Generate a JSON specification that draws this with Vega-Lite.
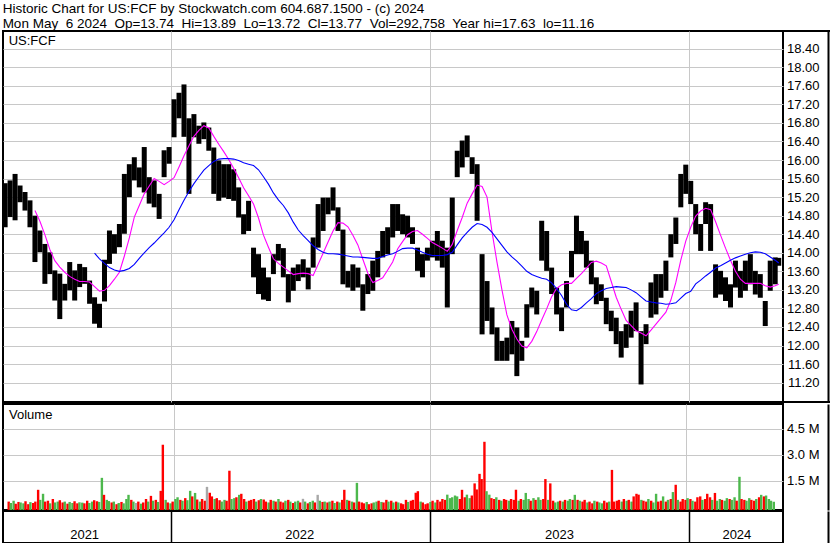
{
  "$schema": "https://vega.github.io/schema/vega-lite/v6.json",
  "background": "white",
  "padding": {"left": 1, "top": 1, "right": 2, "bottom": 0},
  "title": {
    "text": ["Historic Chart for US:FCF by Stockwatch.com 604.687.1500 - (c) 2024", "Mon May\u00a0 6 2024\u00a0 Op=13.74\u00a0 Hi=13.89\u00a0 Lo=13.72\u00a0 Cl=13.77\u00a0 Vol=292,758\u00a0 Year hi=17.63\u00a0 lo=11.16"],
    "anchor": "start", "font": "Liberation Sans", "fontSize": 13.5, "fontWeight": "normal", "lineHeight": 15, "color": "#000", "offset": -1, "dx": 1
  },
  "config": {
    "view": {"stroke": "#000", "strokeWidth": 2},
    "font": "Liberation Sans",
    "axis": {"gridColor": "#c8c8c8", "gridWidth": 1, "labelFont": "Liberation Sans", "labelColor": "#000", "labelFontSize": 13, "labelOverlap": false, "labelBound": false},
    "title": {"font": "Liberation Sans"},
    "text": {"font": "Liberation Sans"}
  },
  "datasets": {
    "px": [
      {"d":"2021-05-12","h":15.5,"l":14.55},
      {"d":"2021-05-19","h":15.56,"l":14.77},
      {"d":"2021-05-26","h":15.7,"l":14.7},
      {"d":"2021-06-02","h":15.45,"l":15.09},
      {"d":"2021-06-09","h":15.31,"l":14.91},
      {"d":"2021-06-16","h":15.13,"l":14.55},
      {"d":"2021-06-23","h":14.8,"l":13.8,"m":14.91},
      {"d":"2021-06-30","h":14.48,"l":14.01,"m":14.68},
      {"d":"2021-07-07","h":14.19,"l":13.33,"m":14.39},
      {"d":"2021-07-14","h":14.01,"l":13.54,"m":14.07},
      {"d":"2021-07-21","h":13.62,"l":12.97,"m":13.83},
      {"d":"2021-07-28","h":13.55,"l":12.57,"m":13.69},
      {"d":"2021-08-04","h":13.33,"l":12.97,"m":13.58},
      {"d":"2021-08-11","h":13.8,"l":13.19,"m":13.49},
      {"d":"2021-08-18","h":13.62,"l":12.97,"m":13.43},
      {"d":"2021-08-25","h":13.76,"l":13.26,"m":13.38},
      {"d":"2021-09-01","h":13.69,"l":13.33,"m":13.38},
      {"d":"2021-09-08","h":13.4,"l":12.9,"m":13.37},
      {"d":"2021-09-15","h":13.04,"l":12.47,"m":13.27,"b":13.99},
      {"d":"2021-09-22","h":12.9,"l":12.38,"m":13.17,"b":13.87},
      {"d":"2021-09-29","h":13.85,"l":12.95,"m":13.19,"b":13.77},
      {"d":"2021-10-06","h":14.48,"l":13.76,"m":13.29,"b":13.68},
      {"d":"2021-10-13","h":14.4,"l":13.98,"m":13.43,"b":13.63},
      {"d":"2021-10-20","h":14.62,"l":14.12,"m":13.58,"b":13.6},
      {"d":"2021-10-27","h":15.7,"l":14.41,"m":13.93,"b":13.62},
      {"d":"2021-11-03","h":15.91,"l":15.2,"m":14.32,"b":13.66},
      {"d":"2021-11-10","h":16.06,"l":15.56,"m":14.77,"b":13.75},
      {"d":"2021-11-17","h":15.84,"l":15.41,"m":15.02,"b":13.88},
      {"d":"2021-11-24","h":16.28,"l":15.3,"m":15.27,"b":14.0},
      {"d":"2021-12-01","h":15.63,"l":15.06,"m":15.44,"b":14.11},
      {"d":"2021-12-08","h":15.56,"l":14.98,"m":15.6,"b":14.21},
      {"d":"2021-12-15","h":15.27,"l":14.73,"m":15.54,"b":14.32},
      {"d":"2021-12-22","h":16.21,"l":15.63,"m":15.47,"b":14.43},
      {"d":"2021-12-29","h":16.28,"l":15.92,"m":15.54,"b":14.55},
      {"d":"2022-01-05","h":17.31,"l":16.49,"m":15.62,"b":14.71},
      {"d":"2022-01-12","h":17.45,"l":16.9,"m":15.85,"b":14.93},
      {"d":"2022-01-19","h":17.63,"l":16.5,"m":16.09,"b":15.13},
      {"d":"2022-01-26","h":16.9,"l":15.27,"m":16.31,"b":15.32},
      {"d":"2022-02-02","h":16.99,"l":16.49,"m":16.51,"b":15.49},
      {"d":"2022-02-09","h":16.74,"l":16.35,"m":16.64,"b":15.64},
      {"d":"2022-02-16","h":16.81,"l":16.45,"m":16.74,"b":15.78},
      {"d":"2022-02-23","h":16.7,"l":16.2,"m":16.69,"b":15.88},
      {"d":"2022-03-02","h":16.27,"l":15.27,"m":16.51,"b":15.97},
      {"d":"2022-03-09","h":15.99,"l":15.12,"m":16.34,"b":16.02},
      {"d":"2022-03-16","h":15.91,"l":15.19,"m":16.18,"b":16.03},
      {"d":"2022-03-23","h":15.91,"l":15.16,"m":16.01,"b":16.03},
      {"d":"2022-03-30","h":15.8,"l":15.12,"m":15.82,"b":16.02},
      {"d":"2022-04-06","h":15.41,"l":14.76,"m":15.62,"b":15.99},
      {"d":"2022-04-13","h":14.83,"l":14.4,"m":15.4,"b":15.94},
      {"d":"2022-04-20","h":15.12,"l":14.47,"m":15.23,"b":15.91},
      {"d":"2022-04-27","h":14.11,"l":13.47,"m":15.05,"b":15.88},
      {"d":"2022-05-04","h":13.97,"l":13.11,"m":14.75,"b":15.79},
      {"d":"2022-05-11","h":13.68,"l":12.99,"m":14.38,"b":15.64},
      {"d":"2022-05-18","h":13.47,"l":12.96,"m":14.12,"b":15.48},
      {"d":"2022-05-25","h":13.97,"l":13.54,"m":13.87,"b":15.29},
      {"d":"2022-06-01","h":14.19,"l":13.83,"m":13.77,"b":15.14},
      {"d":"2022-06-08","h":14.1,"l":13.47,"m":13.69,"b":15.02},
      {"d":"2022-06-15","h":13.54,"l":12.93,"m":13.61,"b":14.86},
      {"d":"2022-06-22","h":13.68,"l":13.18,"m":13.53,"b":14.66},
      {"d":"2022-06-29","h":13.75,"l":13.39,"m":13.55,"b":14.49},
      {"d":"2022-07-06","h":13.86,"l":13.47,"m":13.56,"b":14.37},
      {"d":"2022-07-13","h":13.68,"l":13.21,"m":13.55,"b":14.26},
      {"d":"2022-07-20","h":14.33,"l":13.68,"m":13.51,"b":14.15},
      {"d":"2022-07-27","h":15.05,"l":14.11,"m":13.75,"b":14.07},
      {"d":"2022-08-03","h":15.19,"l":14.47,"m":13.99,"b":14.01},
      {"d":"2022-08-10","h":15.19,"l":14.83,"m":14.23,"b":13.98},
      {"d":"2022-08-17","h":15.41,"l":14.91,"m":14.47,"b":13.98},
      {"d":"2022-08-24","h":14.98,"l":14.47,"m":14.65,"b":13.97},
      {"d":"2022-08-31","h":14.5,"l":13.32,"m":14.64,"b":13.95},
      {"d":"2022-09-07","h":13.61,"l":13.25,"m":14.56,"b":13.93},
      {"d":"2022-09-14","h":13.75,"l":13.18,"m":14.38,"b":13.91},
      {"d":"2022-09-21","h":13.68,"l":13.25,"m":14.17,"b":13.91},
      {"d":"2022-09-28","h":13.32,"l":12.75,"m":13.86,"b":13.9},
      {"d":"2022-10-05","h":13.54,"l":13.11,"m":13.56,"b":13.89},
      {"d":"2022-10-12","h":13.83,"l":13.18,"m":13.36,"b":13.88},
      {"d":"2022-10-19","h":14.04,"l":13.47,"m":13.4,"b":13.88},
      {"d":"2022-10-26","h":14.47,"l":13.9,"m":13.46,"b":13.92},
      {"d":"2022-11-02","h":14.55,"l":13.97,"m":13.63,"b":13.95},
      {"d":"2022-11-09","h":15.05,"l":14.33,"m":13.8,"b":13.98},
      {"d":"2022-11-16","h":15.05,"l":14.47,"m":14.08,"b":14.03},
      {"d":"2022-11-23","h":14.83,"l":14.4,"m":14.24,"b":14.09},
      {"d":"2022-11-30","h":14.8,"l":14.33,"m":14.39,"b":14.1},
      {"d":"2022-12-07","h":14.55,"l":14.19,"m":14.46,"b":14.1},
      {"d":"2022-12-14","h":14.11,"l":13.61,"m":14.48,"b":14.06},
      {"d":"2022-12-21","h":13.97,"l":13.47,"m":14.4,"b":14.01},
      {"d":"2022-12-28","h":14.11,"l":13.83,"m":14.31,"b":13.97},
      {"d":"2023-01-04","h":14.26,"l":13.9,"m":14.22,"b":13.94},
      {"d":"2023-01-11","h":14.47,"l":13.83,"m":14.16,"b":13.94},
      {"d":"2023-01-18","h":14.26,"l":13.68,"m":14.1,"b":13.94},
      {"d":"2023-01-25","h":14.11,"l":12.82,"m":14.03,"b":13.96},
      {"d":"2023-02-01","h":15.19,"l":13.97,"m":14.18,"b":14.01},
      {"d":"2023-02-08","h":16.2,"l":15.63,"m":14.48,"b":14.17},
      {"d":"2023-02-15","h":16.42,"l":15.84,"m":14.76,"b":14.32},
      {"d":"2023-02-22","h":16.53,"l":16.06,"m":15.07,"b":14.44},
      {"d":"2023-03-01","h":16.06,"l":15.7,"m":15.27,"b":14.55},
      {"d":"2023-03-08","h":15.91,"l":14.69,"m":15.46,"b":14.63},
      {"d":"2023-03-15","h":13.97,"l":12.24,"m":15.43,"b":14.61},
      {"d":"2023-03-22","h":13.39,"l":12.53,"m":15.2,"b":14.55},
      {"d":"2023-03-29","h":12.82,"l":12.24,"m":14.45,"b":14.44},
      {"d":"2023-04-05","h":12.39,"l":11.67,"m":13.8,"b":14.3},
      {"d":"2023-04-12","h":12.1,"l":11.67,"m":13.2,"b":14.16},
      {"d":"2023-04-19","h":12.17,"l":11.67,"m":12.66,"b":14.02},
      {"d":"2023-04-26","h":12.53,"l":11.81,"m":12.35,"b":13.91},
      {"d":"2023-05-03","h":12.39,"l":11.34,"m":12.14,"b":13.82},
      {"d":"2023-05-10","h":12.1,"l":11.67,"m":11.99,"b":13.71},
      {"d":"2023-05-17","h":12.89,"l":12.17,"m":11.95,"b":13.6},
      {"d":"2023-05-24","h":13.25,"l":12.82,"m":12.09,"b":13.53},
      {"d":"2023-05-31","h":13.18,"l":12.67,"m":12.3,"b":13.49},
      {"d":"2023-06-07","h":14.69,"l":13.83,"m":12.55,"b":13.45},
      {"d":"2023-06-14","h":14.47,"l":13.61,"m":12.79,"b":13.43},
      {"d":"2023-06-21","h":13.68,"l":13.11,"m":13.05,"b":13.35},
      {"d":"2023-06-28","h":13.25,"l":12.67,"m":13.23,"b":13.23},
      {"d":"2023-07-05","h":12.82,"l":12.31,"m":13.31,"b":13.08},
      {"d":"2023-07-12","h":13.39,"l":12.82,"m":13.34,"b":12.89},
      {"d":"2023-07-19","h":14.04,"l":13.47,"m":13.34,"b":12.77},
      {"d":"2023-07-26","h":14.8,"l":13.97,"m":13.45,"b":12.75},
      {"d":"2023-08-02","h":14.47,"l":13.97,"m":13.55,"b":12.82},
      {"d":"2023-08-09","h":14.26,"l":13.68,"m":13.67,"b":12.92},
      {"d":"2023-08-16","h":13.83,"l":13.32,"m":13.79,"b":13.01},
      {"d":"2023-08-23","h":13.47,"l":12.89,"m":13.82,"b":13.12},
      {"d":"2023-08-30","h":13.32,"l":12.96,"m":13.78,"b":13.18},
      {"d":"2023-09-06","h":13.03,"l":12.46,"m":13.72,"b":13.23},
      {"d":"2023-09-13","h":12.75,"l":12.31,"m":13.38,"b":13.25},
      {"d":"2023-09-20","h":12.6,"l":12.03,"m":13.04,"b":13.27},
      {"d":"2023-09-27","h":12.31,"l":11.74,"m":12.78,"b":13.26},
      {"d":"2023-10-04","h":12.46,"l":11.95,"m":12.54,"b":13.25},
      {"d":"2023-10-11","h":12.75,"l":12.17,"m":12.43,"b":13.2},
      {"d":"2023-10-18","h":12.93,"l":12.31,"m":12.32,"b":13.14},
      {"d":"2023-10-25","h":12.31,"l":11.16,"m":12.27,"b":13.05},
      {"d":"2023-11-01","h":12.46,"l":12.03,"m":12.21,"b":12.96},
      {"d":"2023-11-08","h":13.36,"l":12.6,"m":12.33,"b":12.94},
      {"d":"2023-11-15","h":13.54,"l":12.67,"m":12.46,"b":12.92},
      {"d":"2023-11-22","h":13.54,"l":13.03,"m":12.59,"b":12.91},
      {"d":"2023-11-29","h":13.83,"l":13.18,"m":12.72,"b":12.89},
      {"d":"2023-12-06","h":14.4,"l":13.9,"m":12.98,"b":12.9},
      {"d":"2023-12-13","h":14.76,"l":14.19,"m":13.36,"b":12.92},
      {"d":"2023-12-20","h":15.7,"l":14.98,"m":13.84,"b":13.02},
      {"d":"2023-12-27","h":15.9,"l":15.27,"m":14.25,"b":13.12},
      {"d":"2024-01-03","h":15.55,"l":15.05,"m":14.55,"b":13.17},
      {"d":"2024-01-10","h":15.05,"l":14.4,"m":14.79,"b":13.33},
      {"d":"2024-01-17","h":14.62,"l":14.04,"m":14.9,"b":13.41},
      {"d":"2024-01-24","h":15.09,"l":14.62,"m":14.96,"b":13.5},
      {"d":"2024-01-31","h":15.05,"l":14.04,"m":14.93,"b":13.58},
      {"d":"2024-02-07","h":13.75,"l":13.03,"m":14.67,"b":13.67},
      {"d":"2024-02-14","h":13.61,"l":13.1,"m":14.38,"b":13.72},
      {"d":"2024-02-21","h":13.47,"l":12.96,"m":14.1,"b":13.78},
      {"d":"2024-02-28","h":13.32,"l":12.82,"m":13.84,"b":13.84},
      {"d":"2024-03-06","h":13.83,"l":13.25,"m":13.6,"b":13.89},
      {"d":"2024-03-13","h":13.61,"l":13.03,"m":13.43,"b":13.93},
      {"d":"2024-03-20","h":13.83,"l":13.18,"m":13.34,"b":13.97},
      {"d":"2024-03-27","h":13.97,"l":13.32,"m":13.34,"b":14.0},
      {"d":"2024-04-03","h":13.61,"l":13.1,"m":13.34,"b":14.02},
      {"d":"2024-04-10","h":13.54,"l":13.03,"m":13.34,"b":14.01},
      {"d":"2024-04-17","h":12.96,"l":12.42,"m":13.29,"b":13.98},
      {"d":"2024-04-24","h":13.83,"l":13.18,"m":13.26,"b":13.91},
      {"d":"2024-05-01","h":13.9,"l":13.32,"m":13.29,"b":13.84},
      {"d":"2024-05-06","h":13.89,"l":13.72,"m":13.32,"b":13.78}
    ],
    "vol": [
      {"d":"2021-05-10","v":0.3,"c":"r"},{"d":"2021-05-13","v":0.22,"c":"g"},
      {"d":"2021-05-17","v":0.35,"c":"g"},{"d":"2021-05-20","v":0.18,"c":"r"},
      {"d":"2021-05-24","v":0.28,"c":"r"},{"d":"2021-05-27","v":0.25,"c":"g"},
      {"d":"2021-05-31","v":0.2,"c":"g"},{"d":"2021-06-03","v":0.32,"c":"r"},
      {"d":"2021-06-07","v":0.15,"c":"r"},{"d":"2021-06-10","v":0.27,"c":"g"},
      {"d":"2021-06-14","v":0.22,"c":"r"},{"d":"2021-06-17","v":0.3,"c":"r"},
      {"d":"2021-06-21","v":0.98,"c":"r"},{"d":"2021-06-24","v":0.4,"c":"g"},
      {"d":"2021-06-28","v":0.75,"c":"g"},{"d":"2021-07-01","v":0.3,"c":"r"},
      {"d":"2021-07-05","v":0.35,"c":"r"},{"d":"2021-07-08","v":0.2,"c":"g"},
      {"d":"2021-07-12","v":0.45,"c":"r"},{"d":"2021-07-15","v":0.25,"c":"g"},
      {"d":"2021-07-19","v":0.3,"c":"g"},{"d":"2021-07-22","v":0.38,"c":"r"},
      {"d":"2021-07-26","v":0.25,"c":"r"},{"d":"2021-07-29","v":0.3,"c":"g"},
      {"d":"2021-08-02","v":0.18,"c":"r"},{"d":"2021-08-05","v":0.28,"c":"g"},
      {"d":"2021-08-09","v":0.22,"c":"g"},{"d":"2021-08-12","v":0.32,"c":"r"},
      {"d":"2021-08-16","v":0.2,"c":"r"},{"d":"2021-08-19","v":0.26,"c":"g"},
      {"d":"2021-08-23","v":0.24,"c":"g"},{"d":"2021-08-26","v":0.2,"c":"r"},
      {"d":"2021-08-30","v":0.35,"c":"r"},{"d":"2021-09-02","v":0.22,"c":"g"},
      {"d":"2021-09-06","v":0.3,"c":"g"},{"d":"2021-09-09","v":0.38,"c":"r"},
      {"d":"2021-09-13","v":0.32,"c":"r"},{"d":"2021-09-16","v":0.28,"c":"g"},
      {"d":"2021-09-20","v":1.67,"c":"g"},{"d":"2021-09-23","v":0.69,"c":"r"},
      {"d":"2021-09-27","v":0.4,"c":"g"},{"d":"2021-09-30","v":0.33,"c":"g"},
      {"d":"2021-10-04","v":0.25,"c":"r"},{"d":"2021-10-07","v":0.3,"c":"g"},
      {"d":"2021-10-11","v":0.15,"c":"r"},{"d":"2021-10-14","v":0.22,"c":"g"},
      {"d":"2021-10-18","v":0.28,"c":"r"},{"d":"2021-10-21","v":0.2,"c":"g"},
      {"d":"2021-10-25","v":0.45,"c":"g"},{"d":"2021-10-28","v":0.69,"c":"g"},
      {"d":"2021-11-01","v":0.4,"c":"r"},{"d":"2021-11-04","v":0.3,"c":"g"},
      {"d":"2021-11-08","v":0.22,"c":"n"},{"d":"2021-11-11","v":0.3,"c":"r"},
      {"d":"2021-11-15","v":0.18,"c":"g"},{"d":"2021-11-18","v":0.25,"c":"r"},
      {"d":"2021-11-22","v":0.45,"c":"r"},{"d":"2021-11-25","v":0.3,"c":"g"},
      {"d":"2021-11-29","v":0.63,"c":"r"},{"d":"2021-12-02","v":0.35,"c":"g"},
      {"d":"2021-12-06","v":0.4,"c":"r"},{"d":"2021-12-09","v":0.28,"c":"g"},
      {"d":"2021-12-13","v":0.92,"c":"r"},{"d":"2021-12-16","v":3.58,"c":"r"},
      {"d":"2021-12-20","v":0.4,"c":"g"},{"d":"2021-12-23","v":0.25,"c":"r"},
      {"d":"2021-12-27","v":0.2,"c":"g"},{"d":"2021-12-30","v":0.3,"c":"r"},
      {"d":"2022-01-03","v":0.45,"c":"g"},{"d":"2022-01-06","v":0.55,"c":"g"},
      {"d":"2022-01-10","v":0.4,"c":"r"},{"d":"2022-01-13","v":0.35,"c":"g"},
      {"d":"2022-01-17","v":0.5,"c":"r"},{"d":"2022-01-20","v":0.38,"c":"g"},
      {"d":"2022-01-24","v":0.92,"c":"g"},{"d":"2022-01-27","v":0.6,"c":"r"},
      {"d":"2022-01-31","v":0.8,"c":"g"},{"d":"2022-02-03","v":0.42,"c":"r"},
      {"d":"2022-02-07","v":0.3,"c":"g"},{"d":"2022-02-10","v":0.45,"c":"r"},
      {"d":"2022-02-14","v":0.35,"c":"r"},{"d":"2022-02-17","v":1.15,"c":"n"},
      {"d":"2022-02-21","v":0.81,"c":"r"},{"d":"2022-02-24","v":0.6,"c":"r"},
      {"d":"2022-02-28","v":0.45,"c":"g"},{"d":"2022-03-03","v":0.5,"c":"r"},
      {"d":"2022-03-07","v":0.38,"c":"r"},{"d":"2022-03-10","v":0.3,"c":"g"},
      {"d":"2022-03-14","v":0.4,"c":"g"},{"d":"2022-03-17","v":0.35,"c":"r"},
      {"d":"2022-03-21","v":2.08,"c":"r"},{"d":"2022-03-24","v":0.45,"c":"g"},
      {"d":"2022-03-28","v":0.5,"c":"g"},{"d":"2022-03-31","v":0.55,"c":"r"},
      {"d":"2022-04-04","v":0.69,"c":"g"},{"d":"2022-04-07","v":0.75,"c":"r"},
      {"d":"2022-04-11","v":0.45,"c":"r"},{"d":"2022-04-14","v":0.3,"c":"g"},
      {"d":"2022-04-18","v":0.35,"c":"r"},{"d":"2022-04-21","v":0.4,"c":"r"},
      {"d":"2022-04-25","v":0.45,"c":"r"},{"d":"2022-04-28","v":0.3,"c":"g"},
      {"d":"2022-05-02","v":0.38,"c":"r"},{"d":"2022-05-05","v":0.45,"c":"g"},
      {"d":"2022-05-09","v":0.42,"c":"r"},{"d":"2022-05-12","v":0.3,"c":"r"},
      {"d":"2022-05-16","v":0.25,"c":"g"},{"d":"2022-05-19","v":0.4,"c":"r"},
      {"d":"2022-05-23","v":0.35,"c":"g"},{"d":"2022-05-26","v":0.3,"c":"r"},
      {"d":"2022-05-30","v":0.45,"c":"g"},{"d":"2022-06-02","v":0.3,"c":"r"},
      {"d":"2022-06-06","v":0.25,"c":"r"},{"d":"2022-06-09","v":0.35,"c":"g"},
      {"d":"2022-06-13","v":0.4,"c":"r"},{"d":"2022-06-16","v":0.3,"c":"g"},
      {"d":"2022-06-20","v":0.22,"c":"r"},{"d":"2022-06-23","v":0.3,"c":"g"},
      {"d":"2022-06-27","v":0.35,"c":"g"},{"d":"2022-06-30","v":0.25,"c":"r"},
      {"d":"2022-07-04","v":0.46,"c":"n"},{"d":"2022-07-07","v":0.3,"c":"g"},
      {"d":"2022-07-11","v":0.2,"c":"r"},{"d":"2022-07-14","v":0.28,"c":"g"},
      {"d":"2022-07-18","v":0.35,"c":"g"},{"d":"2022-07-21","v":0.25,"c":"r"},
      {"d":"2022-07-25","v":0.69,"c":"n"},{"d":"2022-07-28","v":0.35,"c":"g"},
      {"d":"2022-08-01","v":0.28,"c":"r"},{"d":"2022-08-04","v":0.3,"c":"g"},
      {"d":"2022-08-08","v":0.25,"c":"r"},{"d":"2022-08-11","v":0.3,"c":"g"},
      {"d":"2022-08-15","v":0.35,"c":"r"},{"d":"2022-08-18","v":0.22,"c":"g"},
      {"d":"2022-08-22","v":0.3,"c":"r"},{"d":"2022-08-25","v":0.25,"c":"g"},
      {"d":"2022-08-29","v":0.4,"c":"r"},{"d":"2022-09-01","v":0.98,"c":"r"},
      {"d":"2022-09-05","v":0.4,"c":"g"},{"d":"2022-09-08","v":0.35,"c":"r"},
      {"d":"2022-09-12","v":0.3,"c":"g"},{"d":"2022-09-15","v":0.25,"c":"r"},
      {"d":"2022-09-19","v":1.38,"c":"g"},{"d":"2022-09-22","v":0.3,"c":"r"},
      {"d":"2022-09-26","v":0.25,"c":"r"},{"d":"2022-09-29","v":0.2,"c":"r"},
      {"d":"2022-10-03","v":0.28,"c":"g"},{"d":"2022-10-06","v":0.15,"c":"r"},
      {"d":"2022-10-10","v":0.2,"c":"r"},{"d":"2022-10-13","v":0.25,"c":"g"},
      {"d":"2022-10-17","v":0.3,"c":"g"},{"d":"2022-10-20","v":0.35,"c":"r"},
      {"d":"2022-10-24","v":0.28,"c":"g"},{"d":"2022-10-27","v":0.25,"c":"r"},
      {"d":"2022-10-31","v":0.4,"c":"r"},{"d":"2022-11-03","v":0.3,"c":"g"},
      {"d":"2022-11-07","v":0.35,"c":"r"},{"d":"2022-11-10","v":0.25,"c":"g"},
      {"d":"2022-11-14","v":0.3,"c":"r"},{"d":"2022-11-17","v":0.25,"c":"g"},
      {"d":"2022-11-21","v":0.2,"c":"r"},{"d":"2022-11-24","v":0.15,"c":"r"},
      {"d":"2022-11-28","v":0.4,"c":"r"},{"d":"2022-12-01","v":0.28,"c":"g"},
      {"d":"2022-12-05","v":0.35,"c":"r"},{"d":"2022-12-08","v":0.4,"c":"r"},
      {"d":"2022-12-12","v":0.81,"c":"r"},{"d":"2022-12-15","v":0.9,"c":"r"},
      {"d":"2022-12-19","v":0.3,"c":"g"},{"d":"2022-12-22","v":0.25,"c":"r"},
      {"d":"2022-12-26","v":0.15,"c":"r"},{"d":"2022-12-29","v":0.2,"c":"r"},
      {"d":"2023-01-02","v":0.28,"c":"g"},{"d":"2023-01-05","v":0.35,"c":"r"},
      {"d":"2023-01-09","v":0.25,"c":"g"},{"d":"2023-01-12","v":0.4,"c":"r"},
      {"d":"2023-01-16","v":0.3,"c":"r"},{"d":"2023-01-19","v":0.45,"c":"r"},
      {"d":"2023-01-23","v":0.4,"c":"r"},{"d":"2023-01-26","v":0.7,"c":"g"},
      {"d":"2023-01-30","v":0.5,"c":"g"},{"d":"2023-02-02","v":0.55,"c":"g"},
      {"d":"2023-02-06","v":0.65,"c":"g"},{"d":"2023-02-09","v":0.6,"c":"g"},
      {"d":"2023-02-13","v":0.45,"c":"r"},{"d":"2023-02-16","v":0.98,"c":"r"},
      {"d":"2023-02-20","v":0.55,"c":"r"},{"d":"2023-02-23","v":0.7,"c":"g"},
      {"d":"2023-02-27","v":0.5,"c":"g"},{"d":"2023-03-02","v":0.65,"c":"r"},
      {"d":"2023-03-06","v":1.35,"c":"r"},{"d":"2023-03-09","v":1.0,"c":"r"},
      {"d":"2023-03-13","v":1.9,"c":"r"},{"d":"2023-03-16","v":1.6,"c":"r"},
      {"d":"2023-03-20","v":3.75,"c":"r"},{"d":"2023-03-23","v":0.9,"c":"g"},
      {"d":"2023-03-27","v":0.7,"c":"g"},{"d":"2023-03-30","v":0.5,"c":"r"},
      {"d":"2023-04-03","v":0.45,"c":"r"},{"d":"2023-04-06","v":0.55,"c":"g"},
      {"d":"2023-04-10","v":0.4,"c":"r"},{"d":"2023-04-13","v":0.35,"c":"g"},
      {"d":"2023-04-17","v":0.45,"c":"r"},{"d":"2023-04-20","v":0.4,"c":"r"},
      {"d":"2023-04-24","v":0.35,"c":"g"},{"d":"2023-04-27","v":0.45,"c":"r"},
      {"d":"2023-05-01","v":0.4,"c":"r"},{"d":"2023-05-04","v":0.98,"c":"r"},
      {"d":"2023-05-08","v":0.35,"c":"g"},{"d":"2023-05-11","v":0.45,"c":"r"},
      {"d":"2023-05-15","v":0.4,"c":"g"},{"d":"2023-05-18","v":0.8,"c":"g"},
      {"d":"2023-05-22","v":0.45,"c":"g"},{"d":"2023-05-25","v":0.35,"c":"r"},
      {"d":"2023-05-29","v":0.5,"c":"g"},{"d":"2023-06-01","v":0.4,"c":"r"},
      {"d":"2023-06-05","v":0.55,"c":"g"},{"d":"2023-06-08","v":0.4,"c":"g"},
      {"d":"2023-06-12","v":0.45,"c":"r"},{"d":"2023-06-15","v":1.6,"c":"r"},
      {"d":"2023-06-19","v":0.4,"c":"g"},{"d":"2023-06-22","v":1.35,"c":"r"},
      {"d":"2023-06-26","v":0.35,"c":"r"},{"d":"2023-06-29","v":0.25,"c":"g"},
      {"d":"2023-07-03","v":0.3,"c":"g"},{"d":"2023-07-06","v":0.35,"c":"r"},
      {"d":"2023-07-10","v":0.3,"c":"g"},{"d":"2023-07-13","v":0.4,"c":"r"},
      {"d":"2023-07-17","v":0.35,"c":"g"},{"d":"2023-07-20","v":0.45,"c":"g"},
      {"d":"2023-07-24","v":0.4,"c":"r"},{"d":"2023-07-27","v":0.69,"c":"g"},
      {"d":"2023-07-31","v":0.4,"c":"r"},{"d":"2023-08-03","v":0.35,"c":"g"},
      {"d":"2023-08-07","v":0.3,"c":"r"},{"d":"2023-08-10","v":0.4,"c":"r"},
      {"d":"2023-08-14","v":0.25,"c":"g"},{"d":"2023-08-17","v":0.3,"c":"r"},
      {"d":"2023-08-21","v":0.2,"c":"r"},{"d":"2023-08-24","v":0.35,"c":"g"},
      {"d":"2023-08-28","v":0.3,"c":"r"},{"d":"2023-08-31","v":0.25,"c":"g"},
      {"d":"2023-09-04","v":0.2,"c":"g"},{"d":"2023-09-07","v":0.35,"c":"r"},
      {"d":"2023-09-11","v":0.25,"c":"r"},{"d":"2023-09-14","v":0.3,"c":"g"},
      {"d":"2023-09-18","v":2.13,"c":"r"},{"d":"2023-09-21","v":0.3,"c":"r"},
      {"d":"2023-09-25","v":0.35,"c":"r"},{"d":"2023-09-28","v":0.4,"c":"r"},
      {"d":"2023-10-02","v":0.3,"c":"g"},{"d":"2023-10-05","v":0.45,"c":"r"},
      {"d":"2023-10-09","v":0.35,"c":"g"},{"d":"2023-10-12","v":0.4,"c":"r"},
      {"d":"2023-10-16","v":0.3,"c":"g"},{"d":"2023-10-19","v":0.6,"c":"r"},
      {"d":"2023-10-23","v":0.75,"c":"r"},{"d":"2023-10-26","v":0.7,"c":"r"},
      {"d":"2023-10-30","v":0.4,"c":"g"},{"d":"2023-11-02","v":0.35,"c":"r"},
      {"d":"2023-11-06","v":0.3,"c":"r"},{"d":"2023-11-09","v":0.45,"c":"g"},
      {"d":"2023-11-13","v":0.35,"c":"r"},{"d":"2023-11-16","v":0.25,"c":"g"},
      {"d":"2023-11-20","v":0.75,"c":"g"},{"d":"2023-11-23","v":0.3,"c":"r"},
      {"d":"2023-11-27","v":0.35,"c":"r"},{"d":"2023-11-30","v":0.6,"c":"g"},
      {"d":"2023-12-04","v":0.3,"c":"r"},{"d":"2023-12-07","v":0.4,"c":"g"},
      {"d":"2023-12-11","v":0.45,"c":"r"},{"d":"2023-12-14","v":0.85,"c":"g"},
      {"d":"2023-12-18","v":1.27,"c":"r"},{"d":"2023-12-21","v":0.4,"c":"g"},
      {"d":"2023-12-25","v":0.3,"c":"r"},{"d":"2023-12-28","v":0.45,"c":"r"},
      {"d":"2024-01-01","v":0.4,"c":"r"},{"d":"2024-01-04","v":0.5,"c":"g"},
      {"d":"2024-01-08","v":0.45,"c":"r"},{"d":"2024-01-11","v":0.35,"c":"g"},
      {"d":"2024-01-15","v":0.3,"c":"r"},{"d":"2024-01-18","v":0.55,"c":"r"},
      {"d":"2024-01-22","v":0.6,"c":"r"},{"d":"2024-01-25","v":0.4,"c":"g"},
      {"d":"2024-01-29","v":0.45,"c":"r"},{"d":"2024-02-01","v":0.75,"c":"r"},
      {"d":"2024-02-05","v":0.55,"c":"r"},{"d":"2024-02-08","v":0.4,"c":"g"},
      {"d":"2024-02-12","v":0.8,"c":"r"},{"d":"2024-02-15","v":0.35,"c":"g"},
      {"d":"2024-02-19","v":0.45,"c":"g"},{"d":"2024-02-22","v":0.4,"c":"r"},
      {"d":"2024-02-26","v":0.35,"c":"g"},{"d":"2024-02-29","v":0.5,"c":"g"},
      {"d":"2024-03-04","v":0.45,"c":"r"},{"d":"2024-03-07","v":0.4,"c":"g"},
      {"d":"2024-03-11","v":0.55,"c":"g"},{"d":"2024-03-14","v":0.35,"c":"r"},
      {"d":"2024-03-18","v":1.73,"c":"g"},{"d":"2024-03-21","v":0.45,"c":"r"},
      {"d":"2024-03-25","v":0.4,"c":"r"},{"d":"2024-03-28","v":0.35,"c":"g"},
      {"d":"2024-04-01","v":0.5,"c":"g"},{"d":"2024-04-04","v":0.4,"c":"r"},
      {"d":"2024-04-08","v":0.35,"c":"r"},{"d":"2024-04-11","v":0.45,"c":"g"},
      {"d":"2024-04-15","v":0.55,"c":"r"},{"d":"2024-04-18","v":0.69,"c":"g"},
      {"d":"2024-04-22","v":0.6,"c":"r"},{"d":"2024-04-25","v":0.65,"c":"g"},
      {"d":"2024-04-29","v":0.45,"c":"g"},{"d":"2024-05-02","v":0.35,"c":"g"},
      {"d":"2024-05-06","v":0.29,"c":"g"}
    ],
    "years": [
      {"year":"2021","mid":"2021-09-01"},
      {"year":"2022","mid":"2022-07-01"},
      {"year":"2023","mid":"2023-07-02"},
      {"year":"2024","mid":"2024-03-08"}
    ]
  },
  "spacing": -1,
  "vconcat": [
    {
      "width": 780, "height": 371,
      "title": {"text": "US:FCF", "anchor": "start", "offset": -18, "fontSize": 13, "fontWeight": "normal", "color": "#000", "dx": 6},
      "data": {"name": "px"},
      "layer": [
        {
          "mark": {"type": "rule", "strokeWidth": 5, "color": "#000", "strokeCap": "butt"},
          "encoding": {
            "x": {"field": "d", "type": "temporal",
                  "scale": {"domain": [{"year": 2021, "month": 5, "date": 9}, {"year": 2024, "month": 5, "date": 12}]},
                  "axis": {"title": null, "labels": false, "ticks": false, "domain": false, "grid": true,
                           "values": [{"year": 2022, "month": 1, "date": 1}, {"year": 2023, "month": 1, "date": 1}, {"year": 2024, "month": 1, "date": 1}]}},
            "y": {"field": "l", "type": "quantitative",
                  "scale": {"domain": [10.782, 18.782], "nice": false, "zero": false},
                  "axis": {"title": null, "orient": "right", "offset": 45, "ticks": false, "domainColor": "#000", "domainWidth": 2,
                           "labelAlign": "right", "labelPadding": -9, "format": ".2f", "grid": true, "labelOverlap": false, "labelSeparation": 0,
                           "tickCount": 19,
                           "values": [11.2, 11.6, 12.0, 12.4, 12.8, 13.2, 13.6, 14.0, 14.4, 14.8, 15.2, 15.6, 16.0, 16.4, 16.8, 17.2, 17.6, 18.0, 18.4]}},
            "y2": {"field": "h"}
          }
        },
        {
          "mark": {"type": "line", "color": "#ff00ff", "strokeWidth": 1.1},
          "encoding": {
            "x": {"field": "d", "type": "temporal"},
            "y": {"field": "m", "type": "quantitative"}
          }
        },
        {
          "mark": {"type": "line", "color": "#0000ff", "strokeWidth": 1.1},
          "encoding": {
            "x": {"field": "d", "type": "temporal"},
            "y": {"field": "b", "type": "quantitative"}
          }
        },
        {
          "mark": {"type": "rule", "color": "#000", "strokeWidth": 2, "clip": false},
          "encoding": {
            "x": {"datum": {"year": 2024, "month": 5, "date": 12}, "type": "temporal"},
            "x2": {"datum": {"year": 2024, "month": 7, "date": 16}},
            "y": {"datum": 18.782, "type": "quantitative"}
          }
        },
        {
          "mark": {"type": "rule", "color": "#000", "strokeWidth": 2, "clip": false},
          "encoding": {
            "x": {"datum": {"year": 2024, "month": 5, "date": 12}, "type": "temporal"},
            "x2": {"datum": {"year": 2024, "month": 7, "date": 16}},
            "y": {"datum": 10.782, "type": "quantitative"}
          }
        }
      ]
    },
    {
      "spacing": -2,
      "vconcat": [
        {
          "width": 780, "height": 106,
          "title": {"text": "Volume", "anchor": "start", "offset": -18, "fontSize": 13, "fontWeight": "normal", "color": "#000", "dx": 6},
          "data": {"name": "vol"},
          "mark": {"type": "bar", "width": 2.4},
          "encoding": {
            "x": {"field": "d", "type": "temporal",
                  "scale": {"domain": [{"year": 2021, "month": 5, "date": 9}, {"year": 2024, "month": 5, "date": 12}]},
                  "axis": {"title": null, "labels": false, "ticks": false, "domain": false, "grid": true,
                           "values": [{"year": 2022, "month": 1, "date": 1}, {"year": 2023, "month": 1, "date": 1}, {"year": 2024, "month": 1, "date": 1}]}},
            "y": {"field": "v", "type": "quantitative",
                  "scale": {"domain": [-0.185, 5.93], "nice": false, "zero": false},
                  "axis": {"title": null, "orient": "right", "offset": 45, "ticks": false, "domainColor": "#000", "domainWidth": 2,
                           "labelAlign": "right", "labelPadding": -9, "grid": true, "values": [1.5, 3.0, 4.5], "labelOverlap": false,
                           "labelExpr": "format(datum.value, '.1f') + ' M'"}},
            "y2": {"datum": -0.185},
            "color": {"field": "c", "type": "nominal", "legend": null,
                      "scale": {"domain": ["r", "g", "n"], "range": ["#ff0000", "#4cb84c", "#a8a8a8"]}}
          }
        },
        {
          "width": 780, "height": 32,
          "layer": [
            {
              "mark": {"type": "rule", "color": "#000", "strokeWidth": 2},
              "encoding": {
                "y": {"datum": 0.47, "type": "quantitative",
                      "scale": {"domain": [0, 1], "nice": false, "zero": false},
                      "axis": {"title": null, "orient": "right", "offset": 45, "ticks": false, "labels": false, "grid": false,
                               "domainColor": "#000", "domainWidth": 2}}
              }
            },
            {
              "data": {"name": "years"},
              "mark": {"type": "text", "fontSize": 13, "color": "#000", "baseline": "middle", "align": "center"},
              "encoding": {
                "x": {"field": "mid", "type": "temporal",
                      "scale": {"domain": [{"year": 2021, "month": 5, "date": 9}, {"year": 2024, "month": 5, "date": 12}]},
                      "axis": {"title": null, "labels": false, "ticks": false, "domain": false, "grid": true, "gridColor": "#000", "gridWidth": 1.5,
                               "values": [{"year": 2022, "month": 1, "date": 1}, {"year": 2023, "month": 1, "date": 1}, {"year": 2024, "month": 1, "date": 1}]}},
                "y": {"datum": 0.24, "type": "quantitative"},
                "text": {"field": "year"}
              }
            }
          ]
        }
      ]
    }
  ]
}
